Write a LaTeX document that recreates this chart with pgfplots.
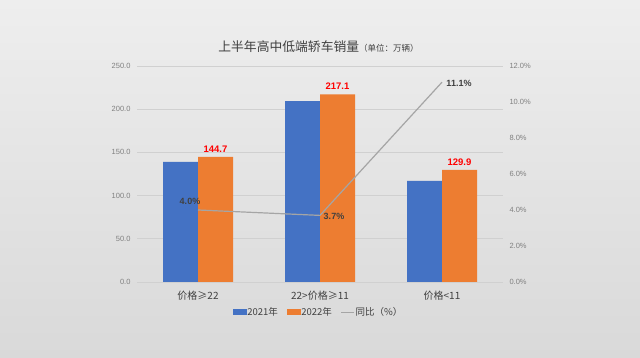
\documentclass[border=0pt]{standalone}
\usepackage{pgfplots}
\pgfplotsset{compat=1.18}
\usepackage{fontspec}
\setmainfont{Liberation Sans}
\newfontfamily\cjk{Noto Sans CJK SC}
\definecolor{cblue}{HTML}{4472C4}
\definecolor{corange}{HTML}{ED7D31}
\definecolor{cline}{HTML}{A5A5A5}
\definecolor{bgtop}{HTML}{EEEEEE}
\definecolor{bgbot}{HTML}{D9D9D9}
\definecolor{tickgray}{HTML}{808080}
\definecolor{txt}{HTML}{404040}
\definecolor{gridc}{HTML}{D0D0D0}
\pgfplotstableread{
x y2021 y2022
0 139.1 144.7
1 209.4 217.1
2 116.9 129.9
}\sales
\pgfplotstableread{
x g dx dy
0 4.0 -8 9
1 3.7 14 -1
2 11.1 17 -1
}\growth
\begin{document}
\begin{tikzpicture}
\useasboundingbox (0pt,0pt) rectangle (640pt,358pt);
\shade[top color=bgtop, bottom color=bgbot] (0pt,0pt) rectangle (640pt,358pt);
\node[text=txt, anchor=center] at (318.5pt,311pt) {\cjk\fontsize{12.8}{14}\selectfont 上半年高中低端轿车销量\fontsize{8.5}{10}\selectfont（单位：万辆）};
\begin{axis}[
  at={(198pt,76pt)}, anchor=origin,
  scale only axis, width=366pt, height=216pt,
  xmin=-0.5, xmax=2.5, ymin=0, ymax=250,
  ytick={0,50,...,250},
  xtick={0,1,2},
  xticklabels={价格≥22, 22>价格≥11, 价格<11},
  xticklabel style={font=\cjk\fontsize{10}{10}\selectfont, text=txt, yshift=-1pt},
  yticklabel style={font=\fontsize{7.5}{8}\selectfont, text=tickgray, xshift=-3pt},
  /pgf/number format/assume math mode=true,
  yticklabel={\pgfmathprintnumber[fixed,fixed zerofill,precision=1]{\tick}},
  axis line style={draw=none},
  major tick style={draw=none},
  ymajorgrids, grid style={gridc, line width=0.6pt},
  ybar=0pt, bar width=35pt,
  clip=false,
  legend style={at={(0.495,-0.139)}, anchor=center, draw=none, fill=none,
    legend columns=3, font=\cjk\fontsize{9.5}{10}\selectfont, text=txt,
    nodes={inner sep=1pt},
    /tikz/every even column/.append style={column sep=8pt}},
]
\addplot[fill=cblue, draw=none, forget plot, bar shift=-17.5pt] table[x=x, y=y2021] {\sales};
\addplot[fill=corange, draw=none, forget plot, bar shift=17.5pt,
  nodes near coords={\pgfmathprintnumber[fixed,fixed zerofill,precision=1]{\pgfplotspointmeta}},
  point meta=y,
  every node near coord/.append style={text=red, font=\bfseries\fontsize{9.5}{9.5}\selectfont, yshift=1pt}
] table[x=x, y=y2022] {\sales};
\addlegendimage{legend image code/.code={\fill[cblue] (0pt,-2.5pt) rectangle (13pt,2.5pt);}}
\addlegendentry{2021年}
\addlegendimage{legend image code/.code={\fill[corange] (0pt,-2.5pt) rectangle (13pt,2.5pt);}}
\addlegendentry{2022年}
\addlegendimage{legend image code/.code={\draw[cline, line width=0.8pt] (0pt,0pt) -- (13pt,0pt);}}
\addlegendentry{同比（\%）}
\end{axis}
\begin{axis}[
  at={(198pt,76pt)}, anchor=origin,
  scale only axis, width=366pt, height=216pt,
  xmin=-0.5, xmax=2.5, ymin=0, ymax=12,
  axis y line*=right,
  hide x axis,
  ytick={0,2,...,12},
  yticklabel style={font=\fontsize{7.5}{8}\selectfont, text=tickgray, xshift=3pt},
  /pgf/number format/assume math mode=true,
  yticklabel={\pgfmathprintnumber[fixed,fixed zerofill,precision=1]{\tick}\%},
  axis line style={draw=none},
  major tick style={draw=none},
  clip=false,
]
\addplot[cline, line width=1.2pt, mark=none,
  visualization depends on={\thisrow{dx}\as\mydx},
  visualization depends on={\thisrow{dy}\as\mydy},
  nodes near coords={\pgfmathprintnumber[fixed,fixed zerofill,precision=1]{\pgfplotspointmeta}\%},
  point meta=y,
  every node near coord/.append style={anchor=center, text=txt, font=\bfseries\fontsize{9}{9}\selectfont, xshift=\mydx pt, yshift=\mydy pt}
] table[x=x, y=g] {\growth};
\end{axis}
\end{tikzpicture}
\end{document}
